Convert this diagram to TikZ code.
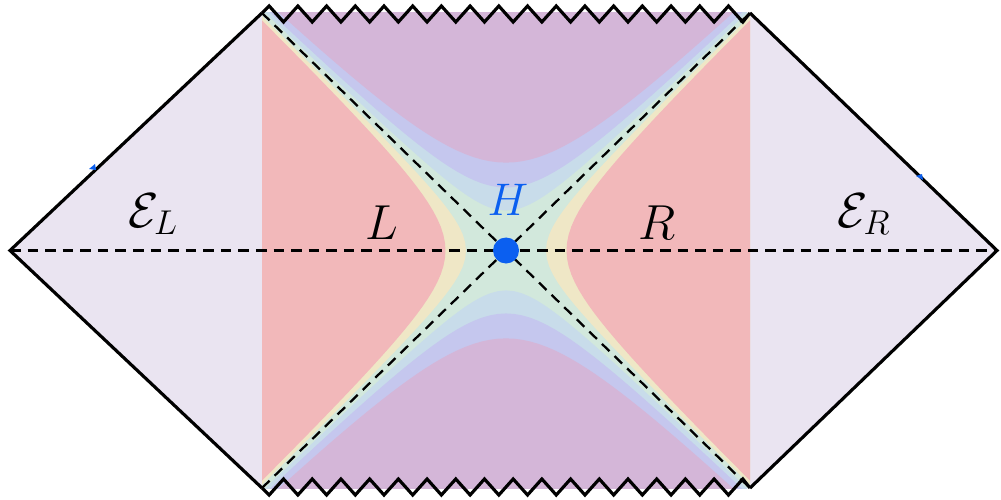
\RequirePackage{fix-cm}
\documentclass[tikz,border=0pt]{standalone}
\usepackage{amsmath}
\usepackage{tikz}
\usetikzlibrary{calc}
\definecolor{extlav}{HTML}{EAE4F1}
\definecolor{sidered}{HTML}{F2B8BA}
\definecolor{bandyellow}{HTML}{EFE7C6}
\definecolor{bandgreen}{HTML}{D2E8DC}
\definecolor{bandlblue}{HTML}{C8DCEA}
\definecolor{bandblue}{HTML}{C5C7EE}
\definecolor{topviolet}{HTML}{D4B6D8}
\definecolor{hblue}{HTML}{0B5FF0}

\begin{document}
\begin{tikzpicture}[
  x=0.02cm, y=-0.02cm,
  wall/.style={black, line width=1.8pt, line join=miter},
  horiz/.style={black, line width=1.3pt, dash pattern=on 6pt off 4pt},
  lab/.style={font=\fontsize{28}{30}\selectfont, anchor=base, inner sep=0pt},
]
\useasboundingbox (0,0) rectangle (1001,500);

% ---------- corners of the diagram ----------
\coordinate (tl) at (262,13);
\coordinate (tr) at (750,13);
\coordinate (bl) at (262,488);
\coordinate (br) at (750,488);
\coordinate (lv) at (10,250.5);
\coordinate (rv) at (997,250.5);
\coordinate (hc) at (506,250.5);

% exterior wedges
\fill[extlav] (tl) -- (lv) -- (bl) -- cycle;
\fill[extlav] (tr) -- (rv) -- (br) -- cycle;

% ---------- hyperbolic bands in the middle ----------
\begin{scope}
  \clip (tl) rectangle (br);
  \fill[bandgreen] (tl) rectangle (br);
  \begin{scope}[shift={(hc)}]
    % top and bottom
    \foreach \k/\col in {0.168/bandlblue, 0.265/bandblue, 0.37/topviolet} {
      \fill[\col] plot[domain=-244:244, samples=61] (\x,{-237.5*sqrt((\x/244)^2+\k^2)})
        -- (244,-300) -- (-244,-300) -- cycle;
      \fill[\col] plot[domain=-244:244, samples=61] (\x,{237.5*sqrt((\x/244)^2+\k^2)})
        -- (244,300) -- (-244,300) -- cycle;
    }
    % left and right
    \foreach \k/\col in {0.164/bandyellow, 0.248/sidered} {
      \fill[\col] plot[domain=-237.5:237.5, samples=61] ({244*sqrt((\x/237.5)^2+\k^2)},\x)
        -- (300,237.5) -- (300,-237.5) -- cycle;
      \fill[\col] plot[domain=-237.5:237.5, samples=61] ({-244*sqrt((\x/237.5)^2+\k^2)},\x)
        -- (-300,237.5) -- (-300,-237.5) -- cycle;
    }
  \end{scope}
\end{scope}

% ---------- dashed lines ----------
\draw[horiz] (lv) -- (rv);
\draw[horiz] (tl) -- (br);
\draw[horiz] (bl) -- (tr);

% ---------- boundaries ----------
\draw[wall] (tl) -- (lv) -- (bl);
\draw[wall] (tr) -- (rv) -- (br);
\draw[wall] (tl) \foreach \k in {0,...,16} { -- ({262+(2*\k+0.5)*14.353},6) -- ({262+(2*\k+1.5)*14.353},22) } -- (tr);
\draw[wall] (bl) \foreach \k in {0,...,16} { -- ({262+(2*\k+0.5)*14.353},495) -- ({262+(2*\k+1.5)*14.353},479) } -- (br);

% small blue ticks on the outer edges
\fill[hblue] (89,169) -- (95,164) -- (96,170) -- cycle;
\fill[hblue] (916,176) -- (922,174) -- (923,180) -- cycle;

% ---------- labels ----------
\node[lab] (el) at (153,227) {$\mathcal{E}_L$};
\node[lab] (ll) at (382,239) {$L$};
\node[lab] (rr) at (657,239) {$R$};
\node[lab] (er) at (864,227) {$\mathcal{E}_R$};
\node[lab, text=hblue, font=\fontsize{26}{28}\selectfont] (hl) at (508,215) {$H$};
\node[circle, fill=hblue, inner sep=0pt, minimum size=14.8pt] (hdot) at (hc) {};

\end{tikzpicture}
\end{document}
